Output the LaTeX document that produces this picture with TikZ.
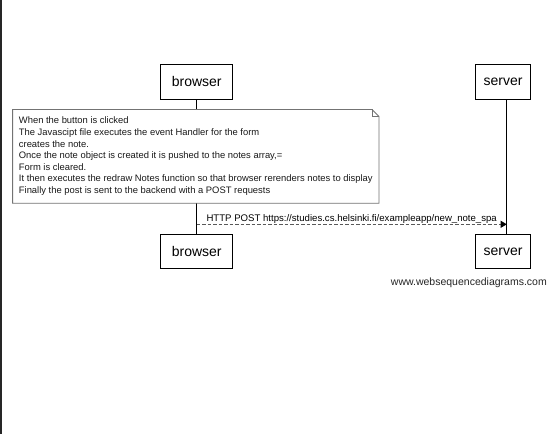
\documentclass[tikz,border=0pt]{standalone}
\usepackage{fontspec}
\setmainfont{Liberation Sans}
\usetikzlibrary{arrows.meta}
\begin{document}
\begin{tikzpicture}[x=1pt,y=-1pt,
  actor/.style={draw=black, line width=0.8pt, minimum height=34.7pt, inner sep=0pt,
    font=\fontsize{14}{16}\selectfont},
  life/.style={draw=black, line width=0.8pt},
  notebox/.style={fill=white, minimum width=366pt, minimum height=93.3pt, inner sep=0pt,
    align=left, text=black!90, font=\fontsize{9.4}{11.6}\selectfont},
  noteline/.style={draw=black!55, line width=0.8pt, line join=miter},
  msg/.style={draw=black!65, dash pattern=on 3.5pt off 2pt, line width=0.8pt,
    -{Triangle[length=6pt,width=7pt,color=black,fill=black]}},
  msglabel/.style={anchor=base, inner sep=0pt, yshift=2.8pt, text=black,
    font=\fontsize{9.6}{11}\selectfont},
  wmark/.style={anchor=east, inner sep=0pt, text=black!85, font=\fontsize{10.5}{12}\selectfont}
]
\useasboundingbox (0,0) rectangle (549,434);
\fill[white] (0,0) rectangle (549,434);
\draw[line width=2pt, black!85] (1,0) -- (1,434);

\node[actor, minimum width=72pt] (btop) at (196.7,81.7) {browser};
\node[actor, minimum width=55.4pt] (stop) at (503,81.7) {server};
\node[actor, minimum width=72pt] (bbot) at (196.7,251.4) {browser};
\node[actor, minimum width=55.4pt] (sbot) at (503,251.4) {server};

\coordinate (stopl) at ([xshift=3.7pt]stop.south);
\coordinate (sbotl) at ([xshift=3.7pt]sbot.north);
\draw[life] (btop.south) -- (bbot.north);
\draw[life] (stopl) -- (sbotl);

\node[notebox] (note) at (195.8,156.3) {When the button is clicked\\
The Javascipt file executes the event Handler for the form\\
creates the note.\\
Once the note object is created it is pushed to the notes array,=\\
Form is cleared.\\
It then executes the redraw Notes function so that browser rerenders notes to display\\
Finally the post is sent to the backend with a POST requests};
\draw[noteline] ([xshift=-7pt]note.north east) -- (note.north west) -- (note.south west)
  -- (note.south east) -- ([yshift=-7pt]note.north east) -- cycle;
\draw[noteline] ([xshift=-7pt]note.north east) |- ([yshift=-7pt]note.north east);

\coordinate (m) at (0,224.3);
\draw[msg] (btop.south |- m) -- node[msglabel] (lbl) {HTTP POST https://studies.cs.helsinki.fi/exampleapp/new\_note\_spa} (stopl |- m);

\node[wmark] (wm) at (547,283) {www.websequencediagrams.com};
\end{tikzpicture}
\end{document}
